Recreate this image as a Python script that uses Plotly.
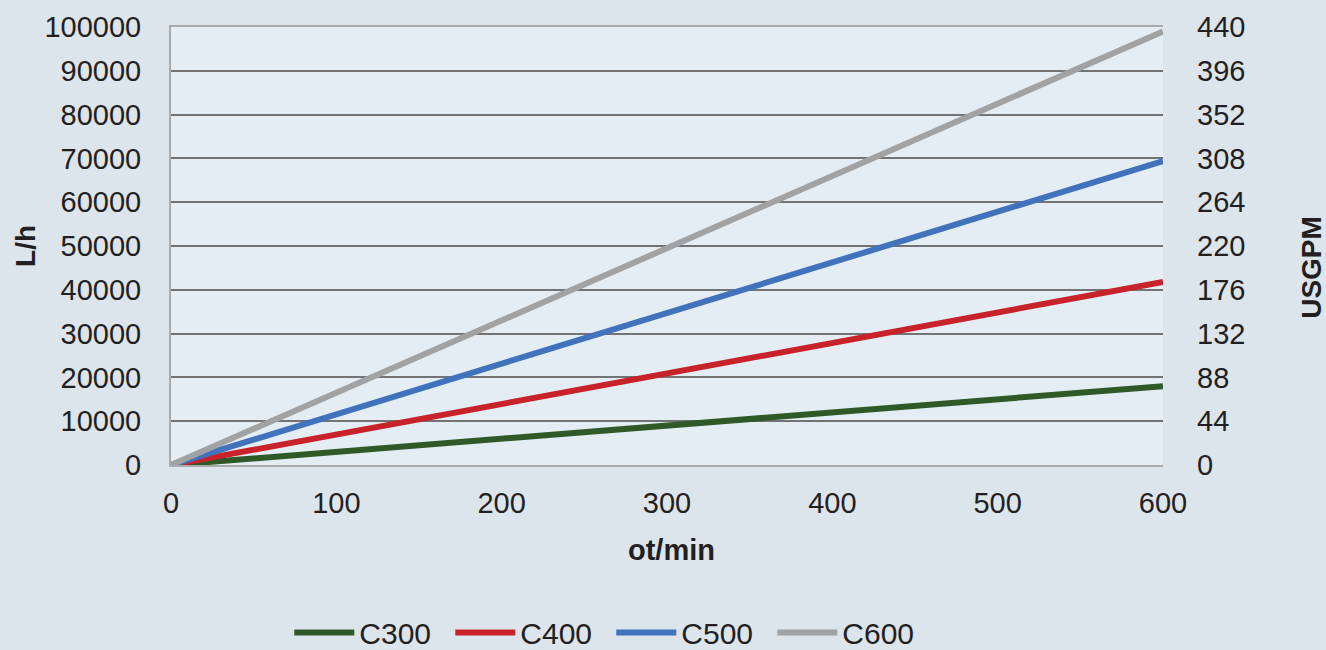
import plotly.graph_objects as go

rpm = [0, 100, 200, 300, 400, 500, 600]
c300 = [0, 3000, 6000, 9000, 12000, 15000, 18000]
c400 = [0, 6950, 13900, 20900, 27850, 34800, 41800]
c500 = [0, 11550, 23100, 34700, 46250, 57800, 69400]
c600 = [0, 16500, 33000, 49500, 66000, 82500, 99000]
names = ["C300", "C400", "C500", "C600"]
colors = ["#2f5a28", "#c8222a", "#4173bd", "#a0a2a3"]
usgpm_ticks = [0, 44, 88, 132, 176, 220, 264, 308, 352, 396, 440]

font = dict(family="Liberation Sans, Arial, sans-serif", color="#231f20", size=29)

fig = go.Figure()
for name, ys, col in zip(names, [c300, c400, c500, c600], colors):
    fig.add_trace(go.Scatter(x=rpm, y=ys, name=name, mode="lines",
                             line=dict(color=col, width=6)))

# secondary axis carrier (invisible)
fig.add_trace(go.Scatter(x=[0, 600], y=[0, 440], yaxis="y2", mode="lines",
                         line=dict(width=0), showlegend=False, hoverinfo="skip"))

fig.update_layout(
    width=1326, height=650,
    paper_bgcolor="#dce4ec", plot_bgcolor="#e4edf3",
    font=font,
    margin=dict(l=171, r=163, t=27, b=185),
    xaxis=dict(range=[0, 600], dtick=100, showgrid=False, zeroline=False,
               showline=True, linecolor="#a9aaab", linewidth=2, mirror=True,
               ticks="", ticklabelstandoff=11),
    yaxis=dict(range=[0, 100000], dtick=10000, tickformat="d", showgrid=True,
               gridcolor="#727375", gridwidth=2, zeroline=False, showline=True,
               linecolor="#a9aaab", linewidth=2, ticks="", ticklabelstandoff=22),
    yaxis2=dict(range=[0, 440], tickvals=usgpm_ticks, overlaying="y", side="right",
                showgrid=False, zeroline=False, showline=False, ticks="",
                ticklabelstandoff=33),
    legend=dict(orientation="h", x=0.461, xanchor="center", xref="container",
                y=0.027, yanchor="middle", yref="container",
                font=dict(size=30), bgcolor="rgba(0,0,0,0)", tracegroupgap=0,
                itemwidth=60, entrywidth=86, entrywidthmode="pixels"),
    showlegend=True,
)

fig.add_annotation(text="<b>L/h</b>", xref="paper", yref="paper",
                   x=-0.1472, y=0.50, xanchor="center", yanchor="middle",
                   textangle=-90, showarrow=False, font=dict(size=28))
fig.add_annotation(text="<b>ot/min</b>", xref="paper", yref="paper",
                   x=0.505, y=-0.195, xanchor="center", yanchor="middle",
                   showarrow=False, font=dict(size=29))
fig.add_annotation(text="<b>USGPM</b>", xref="paper", yref="paper",
                   x=1.149, y=0.452, xanchor="center", yanchor="middle",
                   textangle=-90, showarrow=False, font=dict(size=28))

fig.write_html("out.html", config={"displayModeBar": False},
               post_script="document.body.style.margin='0';"
                           "document.body.style.overflow='hidden';")
